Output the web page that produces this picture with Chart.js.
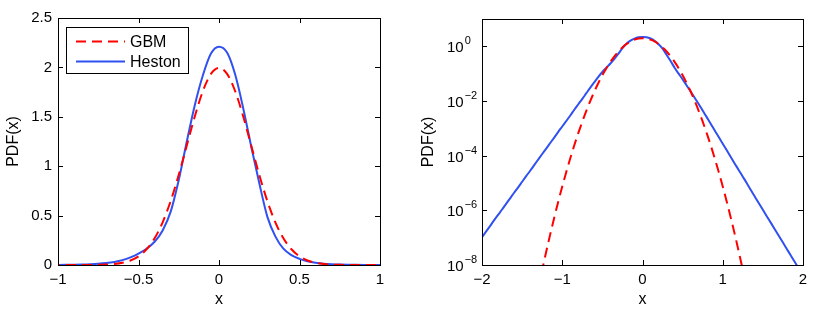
<!DOCTYPE html>
<html>
<head>
<meta charset="utf-8">
<script src="https://cdn.jsdelivr.net/npm/chart.js@4.4.1/dist/chart.umd.min.js"></script>
<style>
  html, body { margin: 0; padding: 0; background: #fff; }
  #wrap { position: relative; width: 814px; height: 314px; }
  .pane { position: absolute; top: 0; width: 407px; height: 314px; }
  #leftPane { left: 0; }
  #rightPane { left: 407px; }
</style>
</head>
<body>
<div id="wrap">
  <div class="pane" id="leftPane"><canvas id="linChart" width="407" height="314"></canvas></div>
  <div class="pane" id="rightPane"><canvas id="logChart" width="407" height="314"></canvas></div>
</div>
<script>
// x grid (-2 .. 2)
const xs = [
  -2.00, -1.95, -1.90, -1.85, -1.80, -1.75, -1.70, -1.65, -1.60, -1.55,
  -1.50, -1.45, -1.40, -1.35, -1.30, -1.25, -1.20, -1.15, -1.10, -1.05,
  -1.00, -0.95, -0.90, -0.85, -0.80, -0.75, -0.70, -0.65, -0.60, -0.55,
  -0.50, -0.45, -0.40, -0.35, -0.30, -0.25, -0.20, -0.15, -0.10, -0.05,
   0.00,  0.05,  0.10,  0.15,  0.20,  0.25,  0.30,  0.35,  0.40,  0.45,
   0.50,  0.55,  0.60,  0.65,  0.70,  0.75,  0.80,  0.85,  0.90,  0.95,
   1.00,  1.05,  1.10,  1.15,  1.20,  1.25,  1.30,  1.35,  1.40,  1.45,
   1.50,  1.55,  1.60,  1.65,  1.70,  1.75,  1.80,  1.85,  1.90,  1.95,
   2.00
];

// GBM (red dashed) - drops below 1e-8 near |x| = 1.24
const gbmPdf = [
  null, null, null, null, null, null, null, null, null, null,
  null, null, null, null, 1.33e-9, 6.57e-9, 3.04e-8, 1.32e-7, 5.39e-7, 2.07e-6,
  7.44e-6, 2.52e-5, 7.99e-5, 2.39e-4, 6.69e-4, 1.76e-3, 4.36e-3, 0.0101, 0.0222, 0.0455,
  0.0877, 0.159, 0.270, 0.432, 0.648, 0.913, 1.210, 1.506, 1.761, 1.934,
  1.995, 1.934, 1.761, 1.506, 1.210, 0.913, 0.648, 0.432, 0.270, 0.159,
  0.0877, 0.0455, 0.0222, 0.0101, 4.36e-3, 1.76e-3, 6.69e-4, 2.39e-4, 7.99e-5, 2.52e-5,
  7.44e-6, 2.07e-6, 5.39e-7, 1.32e-7, 3.04e-8, 6.57e-9, 1.33e-9, null, null, null,
  null, null, null, null, null, null, null, null, null, null,
  null
];

// Heston (blue solid) - fat, slightly asymmetric tails
const hestonPdf = [
  1.05e-7, 1.66e-7, 2.66e-7, 4.3e-7, 6.8e-7, 1.07e-6, 1.72e-6, 2.75e-6, 4.4e-6, 6.9e-6,
  1.11e-5, 1.78e-5, 2.8e-5, 4.5e-5, 7.2e-5, 1.15e-4, 1.82e-4, 2.9e-4, 4.6e-4, 7.4e-4,
  1.17e-3, 1.86e-3, 2.95e-3, 4.8e-3, 7.6e-3, 0.0120, 0.0193, 0.031, 0.049, 0.077,
  0.115, 0.165, 0.235, 0.35, 0.54, 0.86, 1.25, 1.62, 1.92, 2.14,
  2.21, 2.15, 1.93, 1.59, 1.20, 0.83, 0.49, 0.29, 0.165, 0.10,
  0.062, 0.037, 0.0222, 0.0132, 7.76e-3, 4.47e-3, 2.57e-3, 1.48e-3, 8.3e-4, 4.79e-4,
  2.75e-4, 1.58e-4, 8.9e-5, 5.1e-5, 2.95e-5, 1.70e-5, 9.8e-6, 5.5e-6, 3.16e-6, 1.82e-6,
  1.05e-6, 6.0e-7, 3.47e-7, 2.0e-7, 1.15e-7, 6.6e-8, 3.8e-8, 2.19e-8, 1.26e-8, 7.2e-9,
  4.2e-9
];

const seriesNames = ['GBM', 'Heston'];

// tick positions
const linXTicks = [-1, -0.5, 0, 0.5, 1];
const linYTicks = [0, 0.5, 1, 1.5, 2, 2.5];
const logXTicks = [-2, -1, 0, 1, 2];
const logYTicks = [1e-8, 1e-6, 1e-4, 1e-2, 1];

const RED = '#ff0000';
const BLUE = '#3050f0';
const FONT = '"Liberation Sans", Arial, Helvetica, sans-serif';

Chart.defaults.font.family = FONT;
Chart.defaults.font.size = 15;
Chart.defaults.color = '#000';

function pts(vals) {
  return xs.map((x, i) => ({ x: x, y: vals[i] }));
}

function fmtNum(v) {
  return v < 0 ? '\u2212' + Math.abs(v) : String(v);
}

function makeDatasets() {
  return [
    {
      label: seriesNames[0],
      data: pts(gbmPdf),
      borderColor: RED,
      borderWidth: 2,
      borderDash: [10, 6],
      pointRadius: 0,
      cubicInterpolationMode: 'monotone',
      spanGaps: false
    },
    {
      label: seriesNames[1],
      data: pts(hestonPdf),
      borderColor: BLUE,
      borderWidth: 2,
      pointRadius: 0,
      cubicInterpolationMode: 'monotone'
    }
  ];
}

// matlab style box with inward ticks on all four sides
const boxAxes = {
  id: 'boxAxes',
  afterDatasetsDraw(chart) {
    const { ctx, chartArea: a, scales } = chart;
    const len = 5;
    ctx.save();
    ctx.strokeStyle = '#000';
    ctx.lineWidth = 1;
    ctx.setLineDash([]);
    ctx.beginPath();
    scales.x.ticks.forEach(t => {
      const px = Math.round(scales.x.getPixelForValue(t.value)) + 0.5;
      ctx.moveTo(px, a.bottom); ctx.lineTo(px, a.bottom - len);
      ctx.moveTo(px, a.top); ctx.lineTo(px, a.top + len);
    });
    scales.y.ticks.forEach(t => {
      const py = Math.round(scales.y.getPixelForValue(t.value)) + 0.5;
      ctx.moveTo(a.left, py); ctx.lineTo(a.left + len, py);
      ctx.moveTo(a.right, py); ctx.lineTo(a.right - len, py);
    });
    ctx.stroke();
    ctx.strokeRect(Math.round(a.left) + 0.5, Math.round(a.top) + 0.5,
                   Math.round(a.right - a.left), Math.round(a.bottom - a.top));
    ctx.restore();
  }
};

// legend box in upper left of the linear plot
const boxLegend = {
  id: 'boxLegend',
  afterDraw(chart) {
    const ctx = chart.ctx;
    const x0 = 66.5, y0 = 27.5, w = 122, h = 46;
    ctx.save();
    ctx.fillStyle = '#fff';
    ctx.fillRect(x0, y0, w, h);
    ctx.strokeStyle = '#000';
    ctx.lineWidth = 1;
    ctx.strokeRect(x0, y0, w, h);
    chart.data.datasets.forEach((ds, i) => {
      const y = 41.5 + i * 20;
      ctx.beginPath();
      ctx.strokeStyle = ds.borderColor;
      ctx.lineWidth = 2;
      ctx.setLineDash(ds.borderDash || []);
      ctx.moveTo(76, y);
      ctx.lineTo(125, y);
      ctx.stroke();
      ctx.setLineDash([]);
      ctx.fillStyle = '#000';
      ctx.font = '16px ' + FONT;
      ctx.textBaseline = 'middle';
      ctx.textAlign = 'left';
      ctx.fillText(ds.label, 130, y + 1);
    });
    ctx.restore();
  }
};

// 10^n labels with raised exponent on the log axis
const powerLabels = {
  id: 'powerLabels',
  afterDraw(chart) {
    const ctx = chart.ctx;
    const sy = chart.scales.y;
    ctx.save();
    ctx.fillStyle = '#000';
    ctx.textAlign = 'left';
    ctx.textBaseline = 'middle';
    sy.ticks.forEach(t => {
      const py = sy.getPixelForValue(t.value);
      const p = Math.round(Math.log10(t.value));
      ctx.font = '15px ' + FONT;
      ctx.fillText('10', 40, py + 2);
      const w = ctx.measureText('10').width;
      ctx.font = '11px ' + FONT;
      ctx.fillText(p < 0 ? '\u2212' + Math.abs(p) : String(p), 40 + w + 1, py - 5);
    });
    ctx.restore();
  }
};

function xScale(min, max, ticks) {
  return {
    type: 'linear',
    min: min,
    max: max,
    afterBuildTicks: s => { s.ticks = ticks.map(v => ({ value: v })); },
    afterFit: s => { s.height = 49; },
    grid: { display: false, drawTicks: false },
    border: { display: false },
    ticks: { padding: 6, autoSkip: false, maxRotation: 0, callback: v => fmtNum(v) },
    title: { display: true, text: 'x', font: { size: 16 }, padding: { top: 0, bottom: 5 } }
  };
}

document.addEventListener('DOMContentLoaded', function() {
  // 1. linear plot
  new Chart(document.getElementById('linChart').getContext('2d'), {
    type: 'line',
    data: { datasets: makeDatasets() },
    options: {
      responsive: false,
      animation: false,
      events: [],
      layout: { padding: { top: 18, right: 27, left: 0, bottom: 0 } },
      plugins: { legend: { display: false }, tooltip: { enabled: false } },
      scales: {
        x: xScale(-1, 1, linXTicks),
        y: {
          type: 'linear',
          min: 0,
          max: 2.5,
          afterBuildTicks: s => { s.ticks = linYTicks.map(v => ({ value: v })); },
          afterFit: s => { s.width = 58; },
          grid: { display: false, drawTicks: false },
          border: { display: false },
          ticks: { padding: 6, callback: v => fmtNum(v) },
          title: { display: true, text: 'PDF(x)', font: { size: 16 }, padding: { top: 4, bottom: 0 } }
        }
      }
    },
    plugins: [boxAxes, boxLegend]
  });

  // 2. log plot
  new Chart(document.getElementById('logChart').getContext('2d'), {
    type: 'line',
    data: { datasets: makeDatasets() },
    options: {
      responsive: false,
      animation: false,
      events: [],
      layout: { padding: { top: 19, right: 11, left: 8, bottom: 0 } },
      plugins: { legend: { display: false }, tooltip: { enabled: false } },
      scales: {
        x: xScale(-2, 2, logXTicks),
        y: {
          type: 'logarithmic',
          min: 1e-8,
          max: 10,
          afterBuildTicks: s => { s.ticks = logYTicks.map(v => ({ value: v })); },
          afterFit: s => { s.width = 67; },
          grid: { display: false, drawTicks: false },
          border: { display: false },
          ticks: { callback: () => '' },
          title: { display: true, text: 'PDF(x)', font: { size: 16 }, padding: { top: 4, bottom: 0 } }
        }
      }
    },
    plugins: [boxAxes, powerLabels]
  });
});
</script>
</body>
</html>
